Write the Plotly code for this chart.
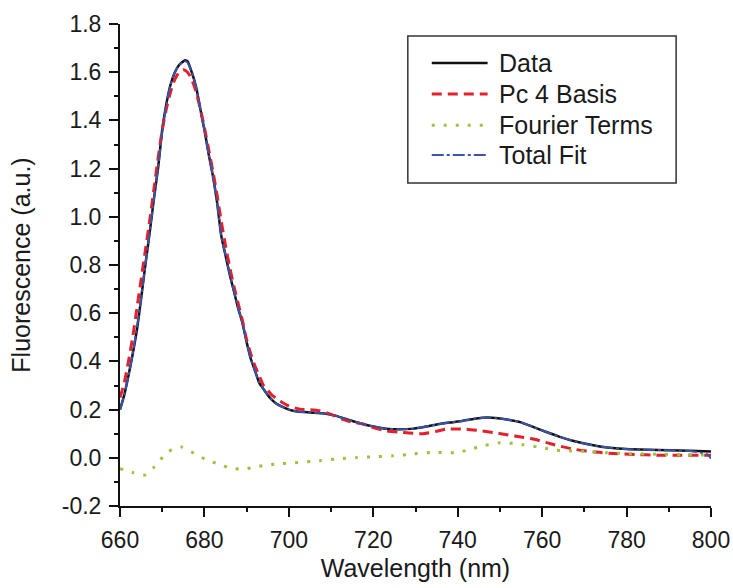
import plotly.graph_objects as go

# ---- data ----
wl_data = [660, 661, 662, 663, 664, 665, 666, 667, 668, 669, 670, 671, 672, 673, 674, 675, 675.5, 676, 677, 678,
           679, 680, 681, 682, 683, 684, 685, 686, 687, 688, 689, 690, 691, 692, 693, 694, 695, 696, 697, 698,
           700, 702, 705, 708, 711, 714, 717, 720, 723, 726, 729, 732, 735, 738, 741, 744, 747, 749, 752, 755,
           758, 761, 764, 767, 770, 773, 776, 780, 785, 790, 795, 800]
data_vals = [0.20, 0.26, 0.34, 0.43, 0.53, 0.66, 0.80, 0.93, 1.07, 1.20, 1.36, 1.47, 1.55, 1.60, 1.63, 1.645, 1.65, 1.645, 1.60, 1.54,
             1.45, 1.36, 1.26, 1.17, 1.06, 0.92, 0.84, 0.76, 0.69, 0.62, 0.56, 0.48, 0.41, 0.36, 0.31, 0.285, 0.26, 0.24, 0.225, 0.215,
             0.200, 0.192, 0.188, 0.185, 0.175, 0.158, 0.142, 0.130, 0.121, 0.118, 0.120, 0.128, 0.138, 0.146, 0.153, 0.162, 0.167, 0.165, 0.158, 0.147,
             0.127, 0.107, 0.088, 0.072, 0.059, 0.049, 0.042, 0.036, 0.033, 0.031, 0.029, 0.026]

wl_basis = [660, 661, 662, 663, 664, 665, 666, 667, 668, 669, 670, 671, 672, 673, 674, 675, 676, 677, 678, 679,
            680, 681, 682, 683, 684, 685, 686, 687, 688, 689, 690, 691, 692, 693, 694, 695, 696, 698, 700, 702.6,
            705, 707.3, 710, 712.8, 715, 717.6, 720, 723, 727, 731.8, 735, 737.3, 742, 745, 748.4, 752, 755, 757.9,
            762, 767.4, 772, 776.8, 782, 787, 793, 798, 800]
basis_vals = [0.25, 0.31, 0.40, 0.50, 0.62, 0.74, 0.86, 0.98, 1.11, 1.24, 1.36, 1.45, 1.52, 1.57, 1.60, 1.61, 1.60, 1.57, 1.52, 1.45,
              1.37, 1.28, 1.19, 1.09, 0.98, 0.88, 0.79, 0.71, 0.64, 0.57, 0.49, 0.43, 0.38, 0.34, 0.30, 0.28, 0.26, 0.235, 0.215, 0.202,
              0.200, 0.195, 0.180, 0.160, 0.148, 0.140, 0.125, 0.112, 0.105, 0.100, 0.110, 0.119, 0.119, 0.113, 0.105, 0.095, 0.086, 0.078,
              0.058, 0.036, 0.025, 0.018, 0.014, 0.011, 0.011, 0.011, 0.011]

wl_fourier = [660, 663, 666, 668, 669, 671, 673, 674.5, 676, 677.5, 680.4, 683.4, 686.4, 689.4, 692.3, 695.2, 698.2, 701.4,
              707.3, 712, 716, 720, 724.7, 729, 733.5, 739.8, 743, 746, 750, 753, 755.5, 760, 763.4, 767, 771.3, 775,
              779.2, 787, 793, 800]
fourier_vals = [-0.045, -0.061, -0.071, -0.040, -0.020, 0.020, 0.040, 0.045, 0.035, 0.019, -0.008, -0.026, -0.044, -0.047, -0.037, -0.029, -0.024, -0.021,
                -0.012, -0.004, 0.001, 0.004, 0.008, 0.015, 0.022, 0.022, 0.035, 0.050, 0.062, 0.060, 0.054, 0.042, 0.032, 0.028, 0.026, 0.021,
                0.018, 0.015, 0.013, 0.011]

wl_fit = [660, 661, 662, 663, 664, 665, 666, 667, 668, 669, 670, 671, 672, 673, 674, 675, 675.5, 676, 677, 678,
          679, 680, 681, 682, 683, 684, 685, 686, 687, 688, 689, 690, 691, 692, 693, 694, 695, 696, 697, 698,
          700, 702, 705, 708, 711, 714, 717, 720, 723, 726, 729, 732, 735, 738, 741, 744, 747, 749, 752, 755,
          758, 761, 764, 767, 770, 773, 776, 780, 785, 790, 795, 799, 800]
fit_vals = [0.20, 0.26, 0.34, 0.43, 0.54, 0.66, 0.80, 0.93, 1.07, 1.20, 1.35, 1.47, 1.55, 1.60, 1.63, 1.642, 1.645, 1.64, 1.60, 1.54,
            1.45, 1.36, 1.26, 1.17, 1.06, 0.92, 0.84, 0.76, 0.69, 0.62, 0.56, 0.48, 0.41, 0.36, 0.31, 0.285, 0.26, 0.24, 0.225, 0.215,
            0.200, 0.192, 0.188, 0.185, 0.175, 0.158, 0.142, 0.130, 0.121, 0.118, 0.120, 0.128, 0.138, 0.146, 0.153, 0.162, 0.167, 0.165, 0.158, 0.147,
            0.127, 0.107, 0.088, 0.072, 0.059, 0.049, 0.042, 0.036, 0.033, 0.031, 0.028, 0.015, -0.003]

series_names = ["Data", "Pc 4 Basis", "Fourier Terms", "Total Fit"]
series_colors = ["#111111", "#e3202b", "#9ac43a", "#3a55a8"]
series_dash = ["solid", "10px,6px", "3px,9px", "12px,3px,3px,3px"]
series_width = [2.5, 3, 3, 2]

x_tickvals = [660, 680, 700, 720, 740, 760, 780, 800]
x_ticktext = ["660", "680", "700", "720", "740", "760", "780", "800"]
y_tickvals = [-0.2, 0.0, 0.2, 0.4, 0.6, 0.8, 1.0, 1.2, 1.4, 1.6, 1.8]
y_ticktext = ["-0.2", "0.0", "0.2", "0.4", "0.6", "0.8", "1.0", "1.2", "1.4", "1.6", "1.8"]

FONT = "Liberation Sans, Arial, sans-serif"
TXT = "#1a1a1a"

fig = go.Figure()
xs = [wl_data, wl_basis, wl_fourier, wl_fit]
ys = [data_vals, basis_vals, fourier_vals, fit_vals]
for i in range(4):
    fig.add_trace(go.Scatter(
        x=xs[i], y=ys[i], mode="lines", name=series_names[i],
        line=dict(color=series_colors[i], dash=series_dash[i], width=series_width[i], shape="spline", smoothing=0.6),
        showlegend=False,
    ))

# manual legend (box, samples, labels)
leg_x0, leg_x1 = 0.487, 0.941
leg_y0, leg_y1 = 0.670, 0.975
row_y = [0.919, 0.855, 0.790, 0.728]
fig.add_shape(type="rect", xref="paper", yref="paper", x0=leg_x0, x1=leg_x1, y0=leg_y0, y1=leg_y1,
              line=dict(color="#333333", width=1.5), fillcolor="rgba(0,0,0,0)")
for i in range(4):
    fig.add_shape(type="line", xref="paper", yref="paper", x0=0.5275, x1=0.622, y0=row_y[i], y1=row_y[i],
                  line=dict(color=series_colors[i], dash=series_dash[i], width=series_width[i]))
    fig.add_annotation(xref="paper", yref="paper", x=0.6375, y=row_y[i], text=series_names[i],
                       showarrow=False, xanchor="left", yanchor="middle",
                       font=dict(family=FONT, size=25, color=TXT))

axis_common = dict(
    showline=True, linecolor="#111111", linewidth=2, mirror=False,
    ticks="outside", ticklen=9, tickwidth=2, tickcolor="#111111",
    showgrid=False, zeroline=False, ticklabelstandoff=3, automargin=False,
    tickfont=dict(family=FONT, size=23, color=TXT),
)

fig.update_xaxes(range=[660, 800], tickmode="array", tickvals=x_tickvals, ticktext=x_ticktext,
                 minor=dict(ticks="outside", ticklen=4, tickwidth=2, tickcolor="#111111", dtick=10, tick0=660),
                 title=dict(text="Wavelength (nm)", font=dict(family=FONT, size=25, color=TXT), standoff=8),
                 **axis_common)
fig.update_yaxes(range=[-0.2, 1.8], tickmode="array", tickvals=y_tickvals, ticktext=y_ticktext,
                 minor=dict(ticks="outside", ticklen=4, tickwidth=2, tickcolor="#111111", dtick=0.1, tick0=-0.2),
                 title=dict(text="Fluorescence (a.u.)", font=dict(family=FONT, size=25, color=TXT), standoff=24),
                 **axis_common)

fig.update_layout(
    width=733, height=588,
    margin=dict(l=120, r=22, t=24, b=82),
    paper_bgcolor="white", plot_bgcolor="white",
    showlegend=False,
)

fig.write_html("out.html")
